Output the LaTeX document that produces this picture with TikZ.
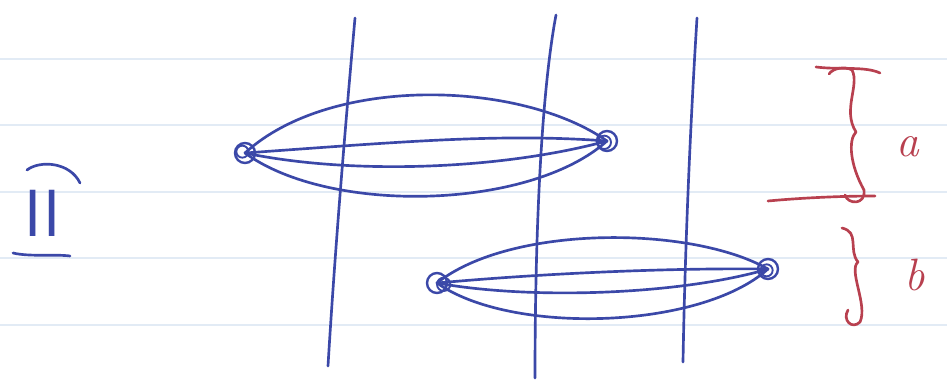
\documentclass[tikz,border=0pt]{standalone}
\usepackage{tikz}
\definecolor{ink}{HTML}{3B48A8}
\definecolor{redink}{HTML}{B8404F}
\definecolor{rule}{HTML}{E2EBF5}
\tikzset{
  pen/.style={draw=ink, line width=2pt, line cap=round, line join=round},
  redpen/.style={draw=redink, line width=2pt, line cap=round, line join=round},
  knot/.style={circle, draw=ink, line width=1.8pt, minimum size=15pt, inner sep=0pt},
  paperline/.style={draw=rule, line width=0.9pt},
  lbl/.style={text=redink, font=\fontsize{34}{36}\selectfont\itshape, inner sep=0pt}
}
\begin{document}
\begin{tikzpicture}[x=0.75pt,y=-0.75pt]
\useasboundingbox (0,0) rectangle (947,381);
\fill[white] (0,0) rectangle (947,381);
% ruled paper
\foreach \yy in {59,125,192,258,325} \draw[paperline] (0,\yy) -- (947,\yy);
% vertical lines
\draw[pen] (355,18) .. controls (345,130) and (335,250) .. (328,366);
\draw[pen] (556,15) .. controls (540,100) and (535,250) .. (535,378);
\draw[pen] (697,18) .. controls (690,130) and (685,250) .. (683,362);
% roman numeral
\node[text=ink, font=\fontsize{50}{50}\selectfont\sffamily, inner sep=0pt] (num) at (43,213) {II};
\draw[pen] (27,170) .. controls (40,160) and (70,162) .. (80,183);
\draw[pen] (13,253) .. controls (30,257) and (55,254) .. (70,256);
% knots
\node[knot] (A) at (245,153) {};
\node[knot] (B) at (607,141) {};
\node[knot] (C) at (437,283) {};
\node[knot] (D) at (768,269) {};
\draw[ink, line width=1.4pt] ([xshift=-2pt,yshift=1pt]A.center) circle (4.5pt);
\draw[ink, line width=1.4pt] ([xshift=-2pt,yshift=-1pt]B.center) circle (5pt);
\draw[ink, line width=1.4pt] ([xshift=5pt,yshift=-1pt]C.center) circle (5pt);
\draw[ink, line width=1.4pt] ([xshift=-1pt,yshift=-1pt]D.center) circle (4.5pt);
% top lens
\draw[pen] (A.center) .. controls (330,75) and (520,80) .. (B.center);
\draw[pen] (A.center) .. controls (330,215) and (530,210) .. (B.center);
\draw[pen] (A.center) .. controls (400,142) and (500,133) .. (B.center);
\draw[pen] (A.center) .. controls (350,175) and (500,170) .. (B.center);
% bottom lens
\draw[pen] (C.center) .. controls (510,225) and (690,225) .. (D.center);
\draw[pen] (C.center) .. controls (510,335) and (700,330) .. (D.center);
\draw[pen] (C.center) .. controls (560,272) and (680,268) .. (D.center);
\draw[pen] (C.center) .. controls (530,300) and (680,295) .. (D.center);
% red bracket a
\draw[redpen] (816,67) .. controls (840,70) and (865,66) .. (880,73);
\draw[redpen] (829,74) .. controls (833,68) and (845,66) .. (852,70)
  .. controls (860,85) and (842,110) .. (856,132)
  .. controls (848,140) and (850,165) .. (864,190)
  .. controls (866,205) and (848,205) .. (845,195);
\draw[redpen] (768,201) .. controls (800,198) and (840,196) .. (875,196);
\node[lbl] (a) at (908,147) {a};
% red brace b
\draw[redpen] (842,228) .. controls (860,232) and (848,250) .. (858,262)
  .. controls (848,270) and (868,305) .. (860,322)
  .. controls (852,330) and (842,320) .. (848,310);
\node[lbl] (b) at (915,275) {b};
\end{tikzpicture}
\end{document}
